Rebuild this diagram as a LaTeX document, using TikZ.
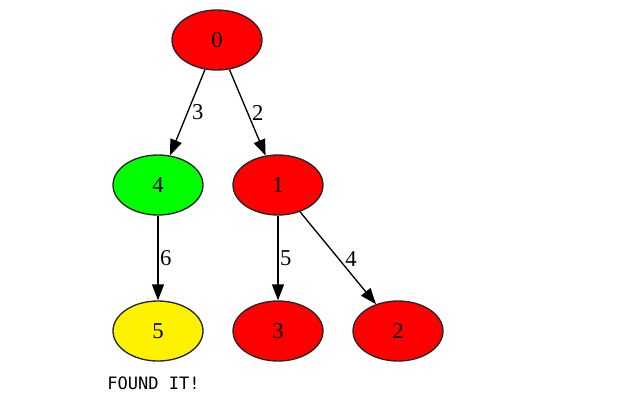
\documentclass[tikz,border=0pt]{standalone}
\usepackage{fontspec}
\setmainfont{Liberation Serif}
\newfontfamily\monof{DejaVu Sans Mono}
\usetikzlibrary{arrows.meta,shapes.geometric}
\begin{document}
\begin{tikzpicture}[x=0.75pt,y=-0.75pt,
  nd/.style={ellipse,draw=black!85,line width=1pt,minimum width=67.5pt,minimum height=45pt,inner sep=0pt,font=\fontsize{17}{20}\selectfont},
  ed/.style={-{Triangle[length=12pt,width=9pt]},line width=1pt},
  lb/.style={font=\fontsize{17}{20}\selectfont,inner sep=0pt}]
\useasboundingbox (0,0) rectangle (623,408);
\node[nd,fill=red] (n0) at (217,40) {0};
\node[nd,fill=green] (n4) at (158,185) {4};
\node[nd,fill=red] (n1) at (278,185) {1};
\node[nd,fill=yellow] (n5) at (158,331) {5};
\node[nd,fill=red] (n3) at (278,331) {3};
\node[nd,fill=red] (n2) at (398,331) {2};
\draw[ed] (n0) -- (n4) node[lb,pos=0.5,right=3pt] {3};
\draw[ed] (n0) -- (n1) node[lb,pos=0.5,right=3pt] {2};
\draw[ed] (n4) -- (n5) node[lb,pos=0.5,right=1pt] {6};
\draw[ed] (n1) -- (n3) node[lb,pos=0.5,right=1pt] {5};
\draw[ed] (n1) -- (n2) node[lb,pos=0.5,right=5pt,yshift=-1pt] {4};
\node[font=\monof\fontsize{12.8}{15}\selectfont,anchor=base west,inner sep=0pt] (found) at (107,389) {FOUND IT!};
\end{tikzpicture}
\end{document}
